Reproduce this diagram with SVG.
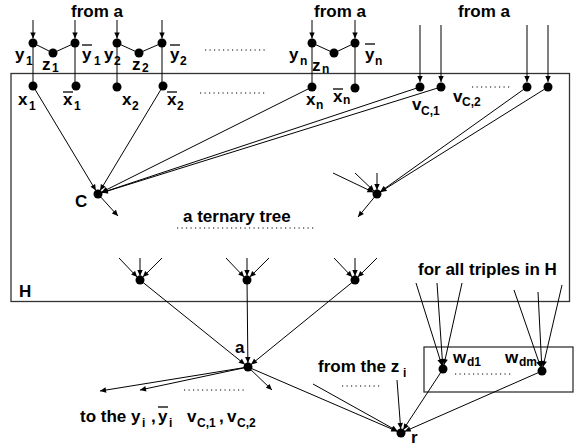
<svg xmlns="http://www.w3.org/2000/svg" width="578" height="446" viewBox="0 0 578 446">
<defs>
<marker id="ah" viewBox="0 0 10 10" refX="10" refY="5" markerWidth="7" markerHeight="6" markerUnits="userSpaceOnUse" orient="auto"><path d="M0,0.5 L10,5 L0,9.5 z" fill="#000"/></marker>
<style>
.t{font-family:"Liberation Sans",Arial,sans-serif;font-weight:bold;font-size:17px;fill:#000}
.s{font-family:"Liberation Sans",Arial,sans-serif;font-weight:bold;font-size:12px;fill:#000}
.e{stroke:#000;stroke-width:1;fill:none}
.a{stroke:#000;stroke-width:1;fill:none;marker-end:url(#ah)}
.d{stroke:#000;stroke-width:1;stroke-dasharray:1.2 3.3;fill:none}
.bar{stroke:#000;stroke-width:1.3}
.box{fill:none;stroke:#333;stroke-width:1.3}
circle{fill:#000}
</style>
</defs>
<rect width="578" height="446" fill="#fff"/>
<g id="H-box"><rect class="box" x="11" y="73.5" width="558.5" height="228"/><text class="t" x="19" y="297">H</text></g>
<g id="W-box"><rect class="box" x="424" y="347" width="149" height="45"/></g>

<g id="connectors">
<line class="a" x1="33" y1="20" x2="33" y2="38.5"/>
<line class="a" x1="75" y1="20" x2="75" y2="38.5"/>
<line class="a" x1="117" y1="20" x2="117" y2="38.5"/>
<line class="a" x1="162" y1="20" x2="162" y2="38.5"/>
<line class="a" x1="312" y1="20" x2="312" y2="38.5"/>
<line class="a" x1="355" y1="20" x2="355" y2="38.5"/>
<line class="a" x1="420" y1="25" x2="420" y2="82"/>
<line class="a" x1="441" y1="25" x2="441" y2="82"/>
<line class="a" x1="527" y1="25" x2="527" y2="82"/>
<line class="a" x1="548" y1="25" x2="548" y2="82"/>
<polyline class="e" points="33,43 53,53 75,43"/>
<polyline class="e" points="117,43 139,53 162,43"/>
<polyline class="e" points="312,43 334,53 355,43"/>
<line class="e" x1="33" y1="43" x2="33" y2="86"/>
<line class="e" x1="75" y1="43" x2="75" y2="86"/>
<line class="e" x1="117" y1="43" x2="117" y2="87"/>
<line class="e" x1="162" y1="43" x2="162" y2="86"/>
<line class="e" x1="312" y1="43" x2="312" y2="87"/>
<line class="e" x1="355" y1="43" x2="355" y2="88"/>
<line class="a" x1="33" y1="86" x2="95.9" y2="190.6"/>
<line class="a" x1="163" y1="86" x2="100.1" y2="190.6"/>
<line class="a" x1="312" y1="87" x2="101.6" y2="192.2"/>
<line class="a" x1="420" y1="87" x2="101.8" y2="192.7"/>
<line class="a" x1="441" y1="87" x2="101.8" y2="192.8"/>
<line class="a" x1="98" y1="194" x2="118" y2="216"/>
<line class="a" x1="527" y1="87" x2="380.3" y2="191.7"/>
<line class="a" x1="548" y1="87" x2="380.4" y2="191.9"/>
<line class="a" x1="333" y1="173" x2="373.4" y2="192.3"/>
<line class="a" x1="355" y1="173" x2="374.1" y2="191.2"/>
<line class="a" x1="377" y1="173" x2="377" y2="190"/>
<line class="a" x1="377" y1="194" x2="358" y2="217"/>
<line class="a" x1="119" y1="258" x2="137.2" y2="277.1"/>
<line class="a" x1="140" y1="258" x2="140" y2="276"/>
<line class="a" x1="162" y1="258" x2="142.8" y2="277.1"/>
<line class="a" x1="226" y1="258" x2="244.2" y2="277.1"/>
<line class="a" x1="247" y1="258" x2="247" y2="276"/>
<line class="a" x1="269" y1="258" x2="249.8" y2="277.1"/>
<line class="a" x1="334" y1="258" x2="352.2" y2="277.1"/>
<line class="a" x1="355" y1="258" x2="355" y2="276"/>
<line class="a" x1="377" y1="258" x2="357.8" y2="277.1"/>
<line class="a" x1="140" y1="280" x2="244.9" y2="364.5"/>
<line class="a" x1="247" y1="280" x2="247.9" y2="363"/>
<line class="a" x1="355" y1="280" x2="251.1" y2="364.5"/>
<line class="a" x1="248" y1="367" x2="100" y2="391"/>
<line class="a" x1="248" y1="367" x2="140" y2="390"/>
<line class="a" x1="248" y1="367" x2="272" y2="390"/>
<line class="a" x1="248" y1="367" x2="397.3" y2="431.4"/>
<line class="a" x1="313" y1="384" x2="397.5" y2="431.1"/>
<line class="a" x1="397" y1="380" x2="400.7" y2="429"/>
<line class="a" x1="443" y1="369" x2="403.2" y2="429.7"/>
<line class="a" x1="542" y1="371" x2="404.7" y2="431.4"/>
<line class="a" x1="416" y1="283" x2="441.8" y2="365.2"/>
<line class="a" x1="437" y1="283" x2="442.7" y2="365"/>
<line class="a" x1="462" y1="283" x2="443.9" y2="365.1"/>
<line class="a" x1="514" y1="290" x2="540.7" y2="367.2"/>
<line class="a" x1="538" y1="292" x2="541.8" y2="367"/>
<line class="a" x1="562" y1="285" x2="542.9" y2="367.1"/>
<line class="d" x1="205" y1="50" x2="267" y2="50"/>
<line class="d" x1="200" y1="93" x2="265" y2="93"/>
<line class="d" x1="472" y1="87" x2="510" y2="87"/>
<line class="d" x1="177" y1="228" x2="314" y2="228"/>
<line class="d" x1="184" y1="390" x2="246" y2="390"/>
<line class="d" x1="342" y1="386" x2="382" y2="386"/>
<line class="d" x1="455" y1="374" x2="512" y2="374"/>
</g>

<g id="from-a-texts">
<text class="t" x="97" y="17" text-anchor="middle">from a</text>
<text class="t" x="340" y="17" text-anchor="middle">from a</text>
<text class="t" x="484" y="17" text-anchor="middle">from a</text>
</g>

<g id="y1"><circle cx="33" cy="43" r="4.5"/><text class="t" x="15" y="60">y</text><text class="s" x="26" y="65">1</text></g>
<g id="z1"><circle cx="53" cy="53" r="4.5"/><text class="t" x="42" y="70">z</text><text class="s" x="52" y="72">1</text></g>
<g id="ybar1"><circle cx="75" cy="43" r="4.5"/><text class="t" x="82" y="60">y</text><line class="bar" x1="82" y1="45" x2="92" y2="45"/><text class="s" x="94" y="65">1</text></g>
<g id="y2"><circle cx="117" cy="43" r="4.5"/><text class="t" x="104" y="60">y</text><text class="s" x="114" y="65">2</text></g>
<g id="z2"><circle cx="139" cy="53" r="4.5"/><text class="t" x="132" y="70">z</text><text class="s" x="142" y="72">2</text></g>
<g id="ybar2"><circle cx="162" cy="43" r="4.5"/><text class="t" x="170" y="60">y</text><line class="bar" x1="170" y1="45" x2="180" y2="45"/><text class="s" x="180" y="65">2</text></g>
<g id="yn"><circle cx="312" cy="43" r="4.5"/><text class="t" x="289" y="60">y</text><text class="s" x="300" y="65">n</text></g>
<g id="zn"><circle cx="334" cy="53" r="4.5"/><text class="t" x="312" y="71">z</text><text class="s" x="322" y="73">n</text></g>
<g id="ybarn"><circle cx="355" cy="43" r="4.5"/><text class="t" x="365" y="60">y</text><line class="bar" x1="365" y1="44" x2="375" y2="44"/><text class="s" x="375" y="65">n</text></g>

<g id="x1"><circle cx="33" cy="86" r="4.5"/><text class="t" x="18" y="105">x</text><text class="s" x="29" y="110">1</text></g>
<g id="xbar1"><circle cx="76" cy="86" r="4.5"/><text class="t" x="63" y="105">x</text><line class="bar" x1="63" y1="92" x2="73" y2="92"/><text class="s" x="74" y="110">1</text></g>
<g id="x2"><circle cx="117" cy="87" r="4.5"/><text class="t" x="122" y="105">x</text><text class="s" x="132" y="110">2</text></g>
<g id="xbar2"><circle cx="163" cy="86" r="4.5"/><text class="t" x="167" y="105">x</text><line class="bar" x1="167" y1="92" x2="177" y2="92"/><text class="s" x="177" y="110">2</text></g>
<g id="xn"><circle cx="312" cy="87" r="4.5"/><text class="t" x="306" y="105">x</text><text class="s" x="316" y="109">n</text></g>
<g id="xbarn"><circle cx="355" cy="88" r="4.5"/><text class="t" x="333" y="102">x</text><line class="bar" x1="333" y1="89" x2="343" y2="89"/><text class="s" x="343" y="104">n</text></g>

<g id="vC1"><circle cx="420" cy="87" r="4.5"/><text class="t" x="412" y="110">v</text><text class="s" x="421" y="115">C,1</text></g>
<g id="vC2"><circle cx="441" cy="87" r="4.5"/><text class="t" x="453" y="102">v</text><text class="s" x="462" y="106">C,2</text></g>
<g id="v3"><circle cx="527" cy="87" r="4.5"/></g>
<g id="v4"><circle cx="548" cy="87" r="4.5"/></g>

<g id="C"><circle cx="98" cy="194" r="4.5"/><text class="t" x="75" y="207">C</text></g>
<g id="R1"><circle cx="377" cy="194" r="4.5"/></g>
<g id="tree-label"><text class="t" x="183" y="222">a ternary tree</text></g>

<g id="T1"><circle cx="140" cy="280" r="4.5"/></g>
<g id="T2"><circle cx="247" cy="280" r="4.5"/></g>
<g id="T3"><circle cx="355" cy="280" r="4.5"/></g>

<g id="a"><circle cx="248" cy="367" r="4.5"/><text class="t" x="235" y="353">a</text></g>
<g id="to-label">
<text class="t" x="80" y="422">to the y</text><text class="s" x="142" y="427">i</text>
<text class="t" x="151" y="422">,</text>
<text class="t" x="158" y="422">y</text><line class="bar" x1="158" y1="407" x2="168" y2="407"/><text class="s" x="169" y="427">i</text>
<text class="t" x="187" y="422">v</text><text class="s" x="197" y="427">C,1</text>
<text class="t" x="219" y="422">,</text>
<text class="t" x="227" y="422">v</text><text class="s" x="237" y="427">C,2</text>
</g>

<g id="from-z"><text class="t" x="318" y="372">from the z</text><text class="s" x="403" y="377">i</text></g>
<g id="triples"><text class="t" x="418" y="275">for all triples in H</text></g>
<g id="wd1"><circle cx="443" cy="369" r="4.5"/><text class="t" x="453" y="363">w</text><text class="s" x="467" y="366">d1</text></g>
<g id="wdm"><circle cx="542" cy="371" r="4.5"/><text class="t" x="505" y="363">w</text><text class="s" x="519" y="366">dm</text></g>
<g id="r"><circle cx="401" cy="433" r="4.5"/><text class="t" x="411" y="443">r</text></g>
</svg>
